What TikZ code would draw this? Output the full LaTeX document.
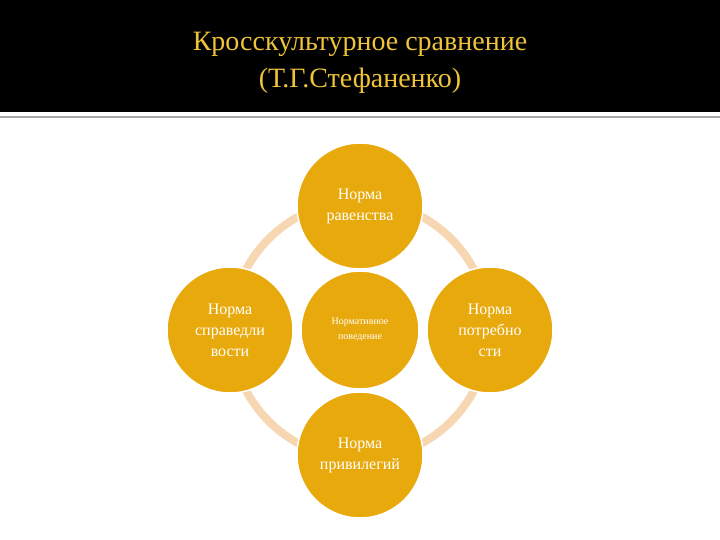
\documentclass[tikz,border=0pt]{standalone}
\usepackage{fontspec}
\setmainfont{Liberation Serif}
\definecolor{gold}{HTML}{E8A90C}
\definecolor{peach}{HTML}{F6D7B2}
\definecolor{titlec}{HTML}{F0C43A}
\begin{document}
\begin{tikzpicture}[x=1pt,y=-1pt,
  big/.style={circle,fill=gold,draw=white,line width=1.5pt,minimum size=126pt,inner sep=0pt,text=white,align=center,font=\fontsize{16}{21}\selectfont},
  small/.style={big,minimum size=118pt,font=\fontsize{10}{15}\selectfont}]
\useasboundingbox (0,0) rectangle (720,540);
\fill[white] (0,0) rectangle (720,540);
\fill[black] (0,0) rectangle (720,112);
\draw[gray!70,line width=1.5pt] (0,117) -- (720,117);
\node[text=titlec,align=center,font=\fontsize{28}{37}\selectfont] (title) at (360,63) {Кросскультурное сравнение\\(Т.Г.Стефаненко)};
\coordinate (c) at (360,330);
\draw[peach,line width=8pt] (c) circle[radius=129];
\node[small] (mid) at (c) {Нормативное\\поведение};
\node[big] (top) at (360,206) {Норма\\равенства};
\node[big] (left) at (230,330) {Норма\\справедли\\вости};
\node[big] (right) at (490,330) {Норма\\потребно\\сти};
\node[big] (bot) at (360,455) {Норма\\привилегий};
\end{tikzpicture}
\end{document}
